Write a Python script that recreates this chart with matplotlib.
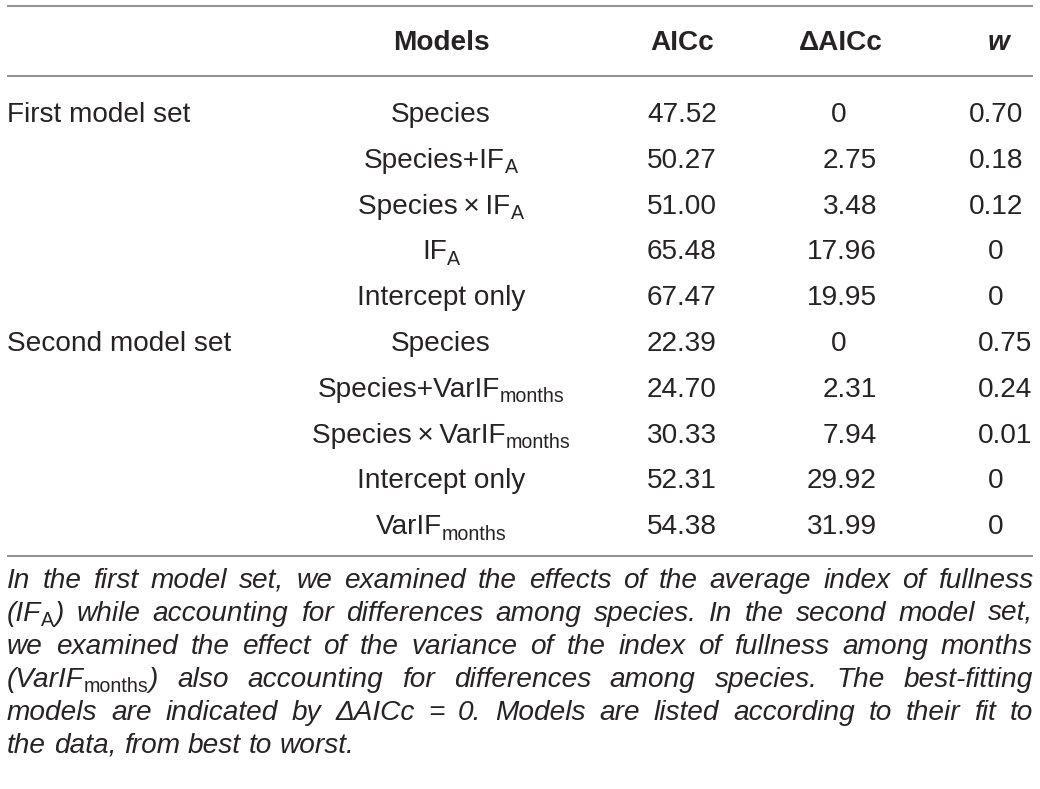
import re
import matplotlib
matplotlib.use("Agg")
import matplotlib.pyplot as plt

# ---------------- data ----------------
headers = ["Models", "AICc", "\u0394AICc", "w"]
set_labels = ["First model set", "Second model set"]
set_sizes = [5, 5]
models = ["Species", "Species+IF_A", "Species\u2009\u00d7\u2009IF_A", "IF_A", "Intercept only",
          "Species", "Species+VarIF_months", "Species\u2009\u00d7\u2009VarIF_months",
          "Intercept only", "VarIF_months"]
aicc = [47.52, 50.27, 51.00, 65.48, 67.47, 22.39, 24.70, 30.33, 52.31, 54.38]
delta_aicc = [0, 2.75, 3.48, 17.96, 19.95, 0, 2.31, 7.94, 29.92, 31.99]
weights = [0.70, 0.18, 0.12, 0, 0, 0.75, 0.24, 0.01, 0, 0]
caption_lines = [
    "In the first model set, we examined the effects of the average index of fullness",
    "(IF_{A}) while accounting for differences among species. In the second model set,",
    "we examined the effect of the variance of the index of fullness among months",
    "(VarIF_{months}) also accounting for differences among species. The best-fitting",
    "models are indicated by \u0394AICc = 0. Models are listed according to their fit to",
    "the data, from best to worst.",
]

# ---------------- style / layout ----------------
W, H = 1040, 789
FONT = ["Liberation Sans", "DejaVu Sans"]
TXT = "#262324"
RULE = "#939393"
FS = 20.2          # points (dpi 100)
SUB_SCALE = 0.70
SUB_DROP = 5.5     # px
LEFT, RIGHT = 7, 1033
RULES_Y = [5.5, 75.5, 555.5]
HEADER_BASE = 50
ROW0_BASE = 122
ROW_STEP = 45.8
CAP0_BASE = 588
CAP_STEP = 33.0
COL_MODEL = 441
COL_AICC = 682
COL_DELTA_C, COL_DELTA_R = 839, 877
COL_W_C = 996
COL_W_R = [1023, 1032]

fig = plt.figure(figsize=(W / 100, H / 100), dpi=100)
ax = fig.add_axes([0, 0, 1, 1])
ax.set_xlim(0, W)
ax.set_ylim(H, 0)
ax.axis("off")
fig.patch.set_facecolor("white")
renderer = fig.canvas.get_renderer()


def measure(s, size, style="normal", weight="normal"):
    t = ax.text(0, 0, s, fontsize=size, family=FONT, style=style, weight=weight)
    w = t.get_window_extent(renderer).width
    t.remove()
    return w


def parse_runs(s):
    # "Species+IF_A" -> [("Species+IF", False), ("A", True)]
    m = re.match(r"^(.*?)_\{?([^}]*)\}?(.*)$", s)
    if not m:
        return [(s, False)]
    runs = [(m.group(1), False), (m.group(2), True)]
    if m.group(3):
        runs += parse_runs(m.group(3))
    return [r for r in runs if r[0]]


def runs_width(runs, style="normal", weight="normal", sub_style="normal"):
    total = 0
    for txt, sub in runs:
        total += measure(txt, FS * SUB_SCALE if sub else FS,
                         sub_style if sub else style, weight)
    return total


def draw_runs(x, y, runs, ha="left", style="normal", weight="normal", sub_style="normal"):
    wtot = runs_width(runs, style, weight, sub_style)
    if ha == "center":
        x -= wtot / 2
    elif ha == "right":
        x -= wtot
    for txt, sub in runs:
        size = FS * SUB_SCALE if sub else FS
        st = sub_style if sub else style
        ax.text(x, y + (SUB_DROP if sub else 0), txt, fontsize=size, family=FONT,
                style=st, weight=weight, color=TXT, va="baseline", ha="left")
        x += measure(txt, size, st, weight)


def fmt(v):
    return "0" if v == 0 else f"{v:.2f}"


def put(x, y, s, ha, **kw):
    ax.text(x, y, s, fontsize=FS, family=FONT, color=TXT, ha=ha, va="baseline", **kw)


# rules
for ry in RULES_Y:
    ax.plot([LEFT, RIGHT], [ry, ry], color=RULE, lw=1.5, solid_capstyle="butt")

# header
put(COL_MODEL, HEADER_BASE, headers[0], "center", weight="bold")
put(COL_AICC, HEADER_BASE, headers[1], "center", weight="bold")
put(COL_DELTA_C + 2, HEADER_BASE, headers[2], "center", weight="bold")
put(COL_W_C + 3, HEADER_BASE, headers[3], "center", weight="bold", style="italic")

# body
row = 0
for si, (lab, n) in enumerate(zip(set_labels, set_sizes)):
    for k in range(n):
        y = ROW0_BASE + row * ROW_STEP
        if k == 0:
            put(LEFT, y, lab, "left")
        draw_runs(COL_MODEL, y, parse_runs(models[row]), ha="center")
        put(COL_AICC, y, fmt(aicc[row]), "center")
        d = delta_aicc[row]
        if d == 0:
            put(COL_DELTA_C, y, fmt(d), "center")
        else:
            put(COL_DELTA_R, y, fmt(d), "right")
        wv = weights[row]
        if wv == 0:
            put(COL_W_C, y, fmt(wv), "center")
        else:
            put(COL_W_R[si], y, fmt(wv), "right")
        row += 1

# caption (justified, italic)
space_w = measure("a a", FS, "italic") - measure("aa", FS, "italic")
for li, line in enumerate(caption_lines):
    y = CAP0_BASE + li * CAP_STEP
    words = line.split(" ")
    wruns = [parse_runs(w) for w in words]
    widths = [runs_width(r, style="italic") for r in wruns]
    last = li == len(caption_lines) - 1
    if last or len(words) < 2:
        gap = space_w
    else:
        gap = (RIGHT - LEFT - sum(widths)) / (len(words) - 1)
    x = LEFT
    for r, wdt in zip(wruns, widths):
        draw_runs(x, y, r, ha="left", style="italic")
        x += wdt + gap

fig.savefig("out.png", dpi=100, facecolor="white")
